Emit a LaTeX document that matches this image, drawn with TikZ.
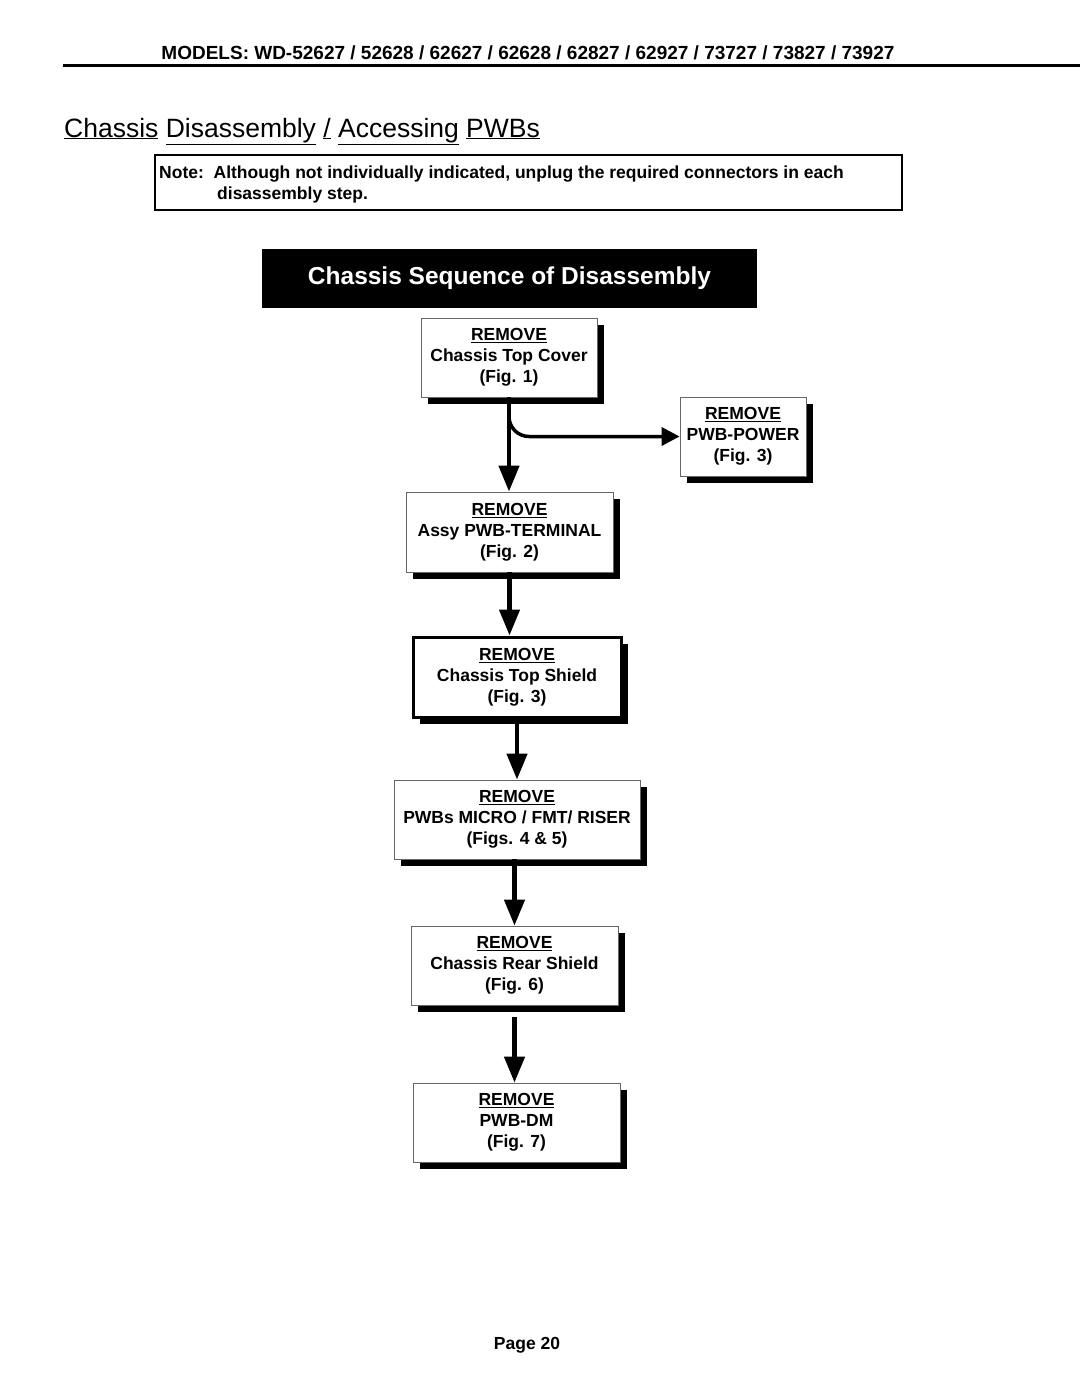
\documentclass[tikz,border=0pt]{standalone}
\usepackage{fontspec}
\setmainfont{Liberation Sans}
\usepackage{tikz}
\usetikzlibrary{arrows.meta,shadows}

\begin{document}
\begin{tikzpicture}[x=1pt,y=-1pt,
  stepbox/.style={draw=black!60, line width=0.8pt, fill=white, align=center,
    inner sep=0pt, font=\fontsize{17.5}{21}\selectfont\bfseries,
    drop shadow={shadow xshift=7pt, shadow yshift=-7pt, fill=black, opacity=1}},
  flow/.style={line width=4.5pt, -{Triangle[length=26pt,width=20pt]}},
  flowside/.style={line width=3.5pt, -{Triangle[length=18pt,width=18pt]}}]
  \useasboundingbox (0,0) rectangle (1080,1397);
  % header
  \node[font=\fontsize{19}{23}\selectfont\bfseries] (models) at (528,53)
    {MODELS: WD-52627 / 52628 / 62627 / 62628 / 62827 / 62927 / 73727 / 73827 / 73927};
  \draw[line width=3pt] (63,65.5) -- (1080,65.5);
  \node[anchor=base west, inner sep=0pt, font=\fontsize{26.5}{30}\selectfont] (title) at (64,137)
    {\underline{Chassis}\ \underline{Disassembly}\ \underline{/}\ \underline{Accessing}\ \underline{PWBs}};
  % note
  \node[draw, line width=1.5pt, minimum width=747, minimum height=55] (note) at (528.5,182.5) {};
  \node[anchor=base west, inner sep=0pt, font=\fontsize{17.5}{20}\selectfont\bfseries] (noteA) at (159,178)
    {Note:\ \ Although not individually indicated, unplug the required connectors in each};
  \node[anchor=base west, inner sep=0pt, font=\fontsize{17.5}{20}\selectfont\bfseries] (noteB) at (217,199)
    {disassembly step.};
  \node[fill=black, text=white, minimum width=495, minimum height=59,
    font=\fontsize{24.5}{28}\selectfont\bfseries] (banner) at (509.5,278.5) {Chassis Sequence of Disassembly};
  % steps
  \node[stepbox, minimum width=176, minimum height=79] (cover) at (509,357.5)
    {\underline{REMOVE}\\Chassis Top Cover\\(Fig. 1)};
  \node[stepbox, minimum width=126, minimum height=79] (power) at (743,436.5)
    {\underline{REMOVE}\\PWB-POWER\\(Fig. 3)};
  \node[stepbox, minimum width=207, minimum height=80] (terminal) at (509.5,532)
    {\underline{REMOVE}\\Assy PWB-TERMINAL\\(Fig. 2)};
  \node[stepbox, draw=black, line width=3pt, minimum width=208, minimum height=80] (shield) at (517,677)
    {\underline{REMOVE}\\Chassis Top Shield\\(Fig. 3)};
  \node[stepbox, minimum width=246, minimum height=79] (micro) at (517,819.5)
    {\underline{REMOVE}\\PWBs MICRO / FMT/ RISER\\(Figs. 4 \& 5)};
  \node[stepbox, minimum width=207, minimum height=79] (rear) at (514.5,965.5)
    {\underline{REMOVE}\\Chassis Rear Shield\\(Fig. 6)};
  \node[stepbox, minimum width=207, minimum height=79] (dm) at (516.5,1122.5)
    {\underline{REMOVE}\\PWB-DM\\(Fig. 7)};
  % arrows
  \draw[flowside, rounded corners=20pt] (cover.south) |- (power.west);
  \draw[flow] (cover.south) -- (cover.south |- terminal.north);
  \draw[flow] (terminal.south) -- (terminal.south |- shield.north);
  \draw[flow] (shield.south) -- (micro.north);
  \draw[flow] (rear.north |- micro.south) -- (rear.north);
  \draw[flow, shorten <=12pt] (rear.south) -- (rear.south |- dm.north);
  % footer
  \node[font=\fontsize{17.5}{20}\selectfont\bfseries] (page) at (527,1345) {Page 20};
\end{tikzpicture}
\end{document}
